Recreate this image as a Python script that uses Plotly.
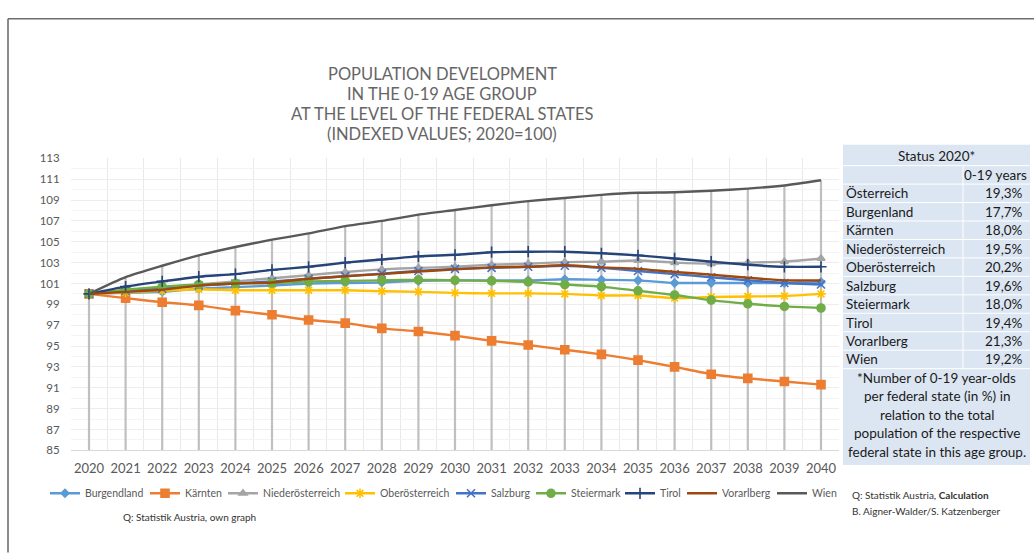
import plotly.graph_objects as go

W, H = 1034, 553

years = list(range(2020, 2041))

burgenland = [100, 100.1, 100.2, 100.5, 100.65, 100.8, 101.0, 101.05, 101.1, 101.25, 101.3,
              101.3, 101.3, 101.4, 101.35, 101.3, 101.05, 101.05, 101.05, 101.05, 101.15]
kaernten = [100, 99.6, 99.2, 98.9, 98.4, 98.0, 97.5, 97.2, 96.7, 96.4, 96.0,
            95.5, 95.1, 94.65, 94.2, 93.65, 93.0, 92.3, 91.9, 91.6, 91.3]
niederoesterreich = [100, 100.3, 100.6, 100.9, 101.2, 101.5, 101.8, 102.1, 102.35, 102.5, 102.6,
                     102.8, 102.9, 103.05, 103.1, 103.2, 103.0, 102.9, 103.0, 103.1, 103.4]
oberoesterreich = [100, 100.15, 100.3, 100.45, 100.35, 100.35, 100.35, 100.35, 100.25, 100.2, 100.1,
                   100.05, 100.05, 100.0, 99.85, 99.85, 99.6, 99.7, 99.75, 99.8, 100.0]
salzburg = [100, 100.3, 100.5, 100.8, 101.0, 101.2, 101.45, 101.7, 101.95, 102.2, 102.4,
            102.5, 102.6, 102.7, 102.5, 102.2, 101.9, 101.6, 101.3, 101.05, 100.9]
steiermark = [100, 100.4, 100.7, 100.9, 101.0, 101.05, 101.2, 101.25, 101.3, 101.35, 101.3,
              101.25, 101.15, 100.9, 100.7, 100.3, 99.9, 99.4, 99.05, 98.8, 98.65]
tirol = [100, 100.7, 101.2, 101.65, 101.9, 102.3, 102.6, 103.0, 103.3, 103.6, 103.75,
         104.0, 104.05, 104.05, 103.9, 103.7, 103.4, 103.1, 102.8, 102.6, 102.6]
vorarlberg = [100, 100.2, 100.4, 100.8, 101.0, 101.1, 101.45, 101.7, 101.9, 102.15, 102.35,
              102.55, 102.6, 102.75, 102.55, 102.4, 102.1, 101.85, 101.55, 101.3, 101.3]
wien = [100, 101.6, 102.7, 103.7, 104.5, 105.2, 105.8, 106.5, 107.0, 107.6, 108.05,
        108.5, 108.9, 109.2, 109.5, 109.7, 109.75, 109.9, 110.1, 110.4, 110.9]

series_names = ["Burgendland", "Kärnten", "Niederösterreich", "Oberösterreich", "Salzburg",
                "Steiermark", "Tirol", "Vorarlberg", "Wien"]
series_values = [burgenland, kaernten, niederoesterreich, oberoesterreich, salzburg,
                 steiermark, tirol, vorarlberg, wien]

y_ticks = list(range(85, 114, 2))

table_title = "Status 2020*"
table_col = "0-19 years"
table_states = ["Österreich", "Burgenland", "Kärnten", "Niederösterreich", "Oberösterreich",
                "Salzburg", "Steiermark", "Tirol", "Vorarlberg", "Wien"]
table_shares = ["19,3%", "17,7%", "18,0%", "19,5%", "20,2%", "19,6%", "18,0%", "19,4%", "21,3%", "19,2%"]
footnote_lines = ["*Number of 0-19 year-olds", "per federal state (in %) in", "relation to the total",
                  "population of the respective", "federal state in this age group."]

title_lines = ["POPULATION DEVELOPMENT", "IN THE 0-19 AGE GROUP",
               "AT THE LEVEL OF THE FEDERAL STATES", "(INDEXED VALUES; 2020=100)"]

colors = ["#5b9bd5", "#ed7d31", "#a5a5a5", "#ffc000", "#4472c4", "#70ad47", "#264478", "#9e480e", "#595959"]
symbols = ["diamond", "square", "triangle-up", "asterisk-open", "x-thin-open", "circle",
           "cross-thin-open", None, None]
msizes = [6, 8, 7, 8, 8, 8, 8, 0, 0]
# left edge (px) of each one-item legend box
legend_box_x = [45, 145, 223, 340, 451, 531, 620, 682, 772]

FONT = "Lato"
GRAY = "#595959"


def px(x):
    return x / W


def py(y):
    return 1 - y / H


fig = go.Figure()

# drop lines from highest value per year down to the axis
drop_x, drop_y = [], []
for i, yr in enumerate(years):
    top = max(s[i] for s in series_values)
    drop_x += [yr, yr, None]
    drop_y += [top, 85, None]
fig.add_trace(go.Scatter(x=drop_x, y=drop_y, mode="lines", line=dict(color="#bfbfbf", width=2.2),
                         showlegend=False, hoverinfo="skip"))

legend_layouts = {}
for k, (name, vals, c, sym, ms) in enumerate(zip(series_names, series_values, colors, symbols, msizes)):
    lname = "legend" if k == 0 else f"legend{k + 1}"
    common = dict(x=years, y=vals, name=name, legend=lname,
                  line=dict(color=c, width=2.4, shape="spline", smoothing=0.6))
    if sym is None:
        fig.add_trace(go.Scatter(mode="lines", **common))
    else:
        fig.add_trace(go.Scatter(mode="lines+markers",
                                 marker=dict(symbol=sym, size=ms, color=c, line=dict(color=c, width=1.6)),
                                 **common))
    legend_layouts[lname] = dict(orientation="h", x=px(legend_box_x[k]), y=py(498), xanchor="left",
                                 yanchor="middle", font=dict(size=10.5, color=GRAY, family=FONT),
                                 itemwidth=30, bgcolor="rgba(0,0,0,0)", borderwidth=0)

x0p, x1p = 70.7, 839.3
y0p, y1p = 155, 454

fig.update_layout(
    width=W, height=H,
    margin=dict(l=0, r=0, t=0, b=0),
    paper_bgcolor="white", plot_bgcolor="white",
    font=dict(family=FONT, color=GRAY),
    xaxis=dict(domain=[px(x0p), px(x1p)], range=[2019.5, 2040.5], tickmode="array",
               tickvals=years, ticktext=[str(y) for y in years], showgrid=False,
               tickfont=dict(size=13, color=GRAY, family=FONT), ticks="", ticklabelstandoff=6,
               showline=True, linecolor="#d9d9d9", linewidth=1, zeroline=False,
               minor=dict(tick0=2019.5, dtick=1, showgrid=True, gridcolor="#e9e9e9", gridwidth=1)),
    yaxis=dict(domain=[py(y1p), py(y0p)], range=[85, 113], tickmode="array", tickvals=y_ticks,
               showgrid=True, gridcolor="#ededed", gridwidth=1, zeroline=False,
               tickfont=dict(size=11.5, color=GRAY, family=FONT), ticks="", ticklabelstandoff=10,
               minor=dict(dtick=1, showgrid=True, gridcolor="#f4f4f4")),
    showlegend=True,
    **legend_layouts,
)

shapes = []
annotations = []

# outer frame
shapes.append(dict(type="line", xref="paper", yref="paper", x0=px(8), x1=1.01, y0=py(12), y1=py(12),
                   line=dict(color="#6e6e6e", width=1.6)))
shapes.append(dict(type="line", xref="paper", yref="paper", x0=px(8), x1=px(8), y0=py(12), y1=-0.01,
                   line=dict(color="#6e6e6e", width=1.6)))

# title
for i, t in enumerate(title_lines):
    annotations.append(dict(text=t, xref="paper", yref="paper", x=px(442), y=py(69 + 20.3 * i),
                            xanchor="center", yanchor="middle", showarrow=False,
                            font=dict(size=16.5, color="#666666", family=FONT)))

# table
tx0, tx1, tdiv = 843, 1030, 963
ty0, ty1 = 141, 469
shapes.append(dict(type="rect", xref="paper", yref="paper", x0=px(tx0), x1=px(tx1), y0=py(ty1), y1=py(ty0),
                   fillcolor="#dce6f2", line=dict(width=0), layer="below"))
row_h = 18.9
row_c = [153 + row_h * k for k in range(12)]
for k in range(12):
    yb = row_c[k] + row_h / 2
    shapes.append(dict(type="line", xref="paper", yref="paper", x0=px(tx0), x1=px(tx1), y0=py(yb), y1=py(yb),
                       line=dict(color="white", width=1)))
shapes.append(dict(type="line", xref="paper", yref="paper", x0=px(tdiv), x1=px(tdiv),
                   y0=py(row_c[1] - row_h / 2), y1=py(row_c[11] + row_h / 2), line=dict(color="white", width=1)))

TF = dict(size=13.5, color="#1a1a1a", family=FONT)
annotations.append(dict(text=table_title, xref="paper", yref="paper", x=px((tx0 + tx1) / 2), y=py(row_c[0]),
                        xanchor="center", yanchor="middle", showarrow=False, font=TF))
annotations.append(dict(text=table_col, xref="paper", yref="paper", x=px(1029), y=py(row_c[1]),
                        xanchor="right", yanchor="middle", showarrow=False, font=TF))
for k, (s, v) in enumerate(zip(table_states, table_shares)):
    annotations.append(dict(text=s, xref="paper", yref="paper", x=px(844), y=py(row_c[2 + k]),
                            xanchor="left", yanchor="middle", showarrow=False, font=TF))
    annotations.append(dict(text=v, xref="paper", yref="paper", x=px(1025), y=py(row_c[2 + k]),
                            xanchor="right", yanchor="middle", showarrow=False, font=TF))
for k, line in enumerate(footnote_lines):
    annotations.append(dict(text=line, xref="paper", yref="paper", x=px((tx0 + tx1) / 2),
                            y=py(row_c[11] + row_h * (k + 1)), xanchor="center", yanchor="middle",
                            showarrow=False, font=TF))

# sources
SF = dict(size=10, color="#333333", family=FONT)
annotations.append(dict(text="Q: Statistik Austria, own graph", xref="paper", yref="paper", x=px(121), y=py(522),
                        xanchor="left", yanchor="middle", showarrow=False, font=SF))
annotations.append(dict(text="Q: Statistik Austria, <b>Calculation</b>", xref="paper", yref="paper", x=px(850),
                        y=py(500), xanchor="left", yanchor="middle", showarrow=False, font=SF))
annotations.append(dict(text="B. Aigner-Walder/S. Katzenberger", xref="paper", yref="paper", x=px(850),
                        y=py(516), xanchor="left", yanchor="middle", showarrow=False, font=SF))

fig.update_layout(shapes=shapes, annotations=annotations)
fig.write_html("out.html", config={"displayModeBar": False},
               post_script="document.body.style.margin='0';document.body.style.overflow='hidden';")
